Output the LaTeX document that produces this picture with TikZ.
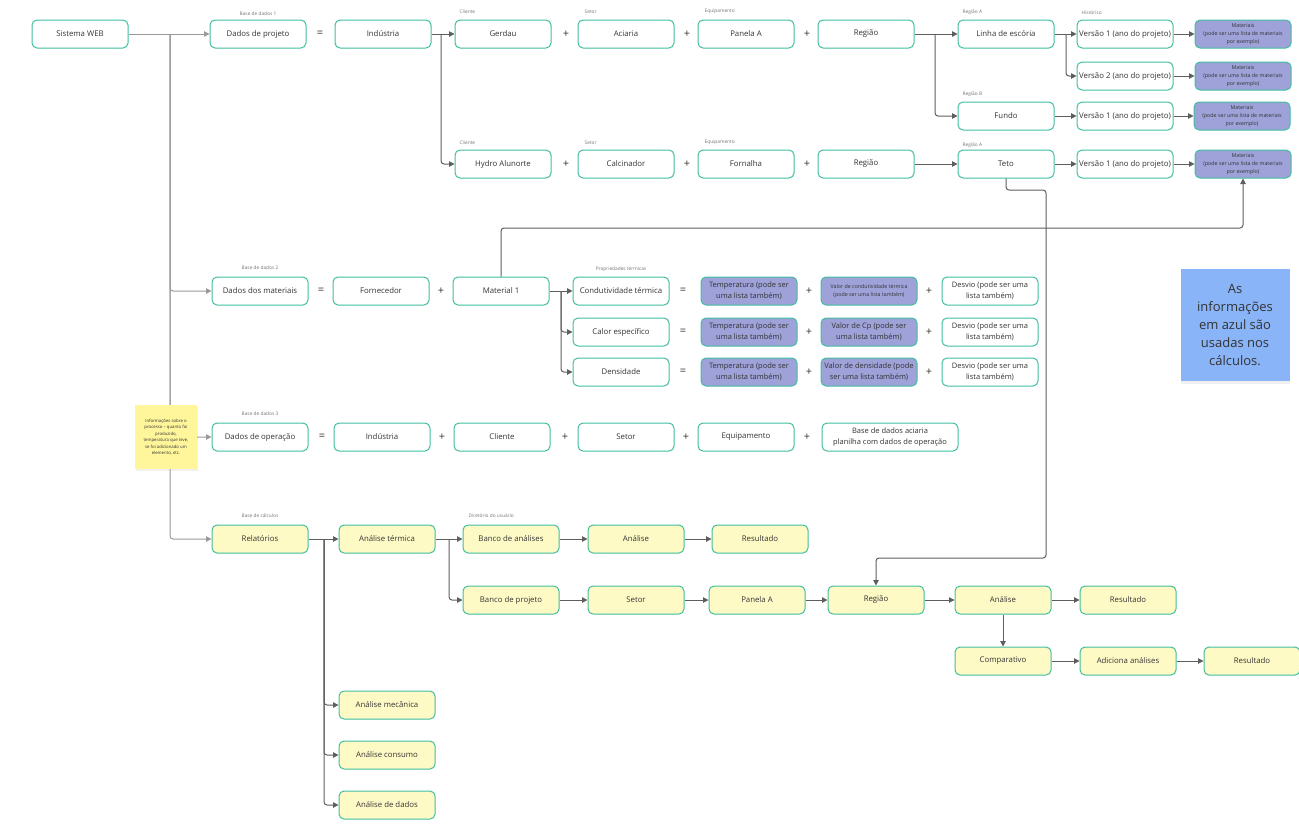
\documentclass[tikz,border=0pt]{standalone}
\usepackage{fontspec}
\setmainfont{Open Sans}
\usetikzlibrary{arrows.meta,positioning,shadows}
\definecolor{Teal}{HTML}{40BEA0}
\definecolor{Lilac}{HTML}{9EA2D9}
\definecolor{Cream}{HTML}{FEFAC6}
\definecolor{Sticky}{HTML}{FFF59A}
\definecolor{SkyNote}{HTML}{8AB4F8}
\definecolor{Ink}{HTML}{333333}
\definecolor{Wire}{HTML}{5E5E5E}
\definecolor{Trunk}{HTML}{9A9A9A}
\tikzset{
  box/.style={draw=Teal,line width=1pt,rounded corners=5pt,fill=white,minimum width=96pt,minimum height=28pt,inner sep=1pt,align=center,text=Ink,font=\fontsize{7.8}{10}\selectfont},
  calcbox/.style={box,fill=Lilac},
  repbox/.style={box,fill=Cream},
  tiny/.style={font=\fontsize{5.3}{8}\selectfont},
  twoline/.style={font=\fontsize{7.5}{11}\selectfont},
  tag/.style={text=black!55,font=\fontsize{4.8}{5}\selectfont,inner sep=0pt},
  op/.style={text=Ink,font=\fontsize{11}{11}\selectfont,inner sep=0pt},
  flow/.style={draw=Wire,line width=1pt,rounded corners=3pt,-{Triangle[length=5.5pt,width=5.5pt]}},
  trunk/.style={flow,draw=Trunk},
}
\begin{document}
\begin{tikzpicture}[x=1pt,y=-1pt]
\useasboundingbox (0,0) rectangle (1299,833);
% base de dados 1
\node[box] (web) at (80,34) {Sistema WEB};
\node[box] (proj) at (258,34) {Dados de projeto};
\node[op] (eq1) at (320,34) {=};
\node[box] (ind1) at (383,34) {Indústria};
\node[box] (gerdau) at (503,34) {Gerdau};
\node[op] (pl1) at (566,34) {+};
\node[box] (aciaria) at (626,34) {Aciaria};
\node[op] (pl2) at (687,34) {+};
\node[box] (panela1) at (746,34) {Panela A};
\node[op] (pl3) at (807,34) {+};
\node[box] (reg1) at (866,34) {Região};
\node[box] (linha) at (1006,34) {Linha de escória};
\node[box] (v1a) at (1125,34) {Versão 1 (ano do projeto)};
\node[calcbox,tiny] (mt1) at (1243,34) {Materiais\\(pode ser uma lista de materiais\\por exemplo)};
\node[box] (v2) at (1125,76) {Versão 2 (ano do projeto)};
\node[calcbox,tiny] (mt2) at (1243,76) {Materiais\\(pode ser uma lista de materiais\\por exemplo)};
\node[box] (fundo) at (1006,116) {Fundo};
\node[box] (v1b) at (1125,116) {Versão 1 (ano do projeto)};
\node[calcbox,tiny] (mt3) at (1242,116) {Materiais\\(pode ser uma lista de materiais\\por exemplo)};
\node[box] (hydro) at (503,164) {Hydro Alunorte};
\node[op] (pl4) at (566,164) {+};
\node[box] (calcin) at (626,164) {Calcinador};
\node[op] (pl5) at (687,164) {+};
\node[box] (forn) at (746,164) {Fornalha};
\node[op] (pl6) at (807,164) {+};
\node[box] (reg2) at (866,164) {Região};
\node[box] (teto) at (1006,164) {Teto};
\node[box] (v1c) at (1125,164) {Versão 1 (ano do projeto)};
\node[calcbox,tiny] (mt4) at (1243,164) {Materiais\\(pode ser uma lista de materiais\\por exemplo)};
\node[tag,above=3.5pt of proj] (tproj) {Base de dados 1};
\node[tag,anchor=south west] (tcli1) at ([xshift=5pt,yshift=6pt]gerdau.north west) {Cliente};
\node[tag,anchor=south west] (tset1) at ([xshift=7pt,yshift=6pt]aciaria.north west) {Setor};
\node[tag,anchor=south west] (teq1) at ([xshift=7pt,yshift=6pt]panela1.north west) {Equipamento};
\node[tag,anchor=south west] (tra1) at ([xshift=5pt,yshift=5pt]linha.north west) {Região A};
\node[tag,anchor=south west] (thist) at ([xshift=5pt,yshift=5pt]v1a.north west) {Histórico};
\node[tag,anchor=south west] (trb) at ([xshift=5pt,yshift=4.5pt]fundo.north west) {Região B};
\node[tag,anchor=south west] (tcli2) at ([xshift=5pt,yshift=5pt]hydro.north west) {Cliente};
\node[tag,anchor=south west] (tset2) at ([xshift=7pt,yshift=5pt]calcin.north west) {Setor};
\node[tag,anchor=south west] (teq2) at ([xshift=7pt,yshift=5pt]forn.north west) {Equipamento};
\node[tag,anchor=south west] (tra2) at ([xshift=5pt,yshift=1.5pt]teto.north west) {Região A};
% base de dados 2
\node[box] (dmat) at (260,291) {Dados dos materiais};
\node[op] (eq2) at (321,291) {=};
\node[box] (fornec) at (381,291) {Fornecedor};
\node[op] (pl7) at (441,291) {+};
\node[box] (mat1) at (501,291) {Material 1};
\node[box] (cond) at (621,291) {Condutividade térmica};
\node[box] (calor) at (621,332) {Calor específico};
\node[box] (dens) at (621,372) {Densidade};
\foreach \y/\n in {291/a,332/b,372/c}{
  \node[op] (eqp\n) at (683,\y) {=};
  \node[calcbox,twoline] (temp\n) at (749,\y) {Temperatura (pode ser\\uma lista também)};
  \node[op] (plq\n) at (809,\y) {+};
  \node[op] (plr\n) at (929,\y) {+};
  \node[box,twoline] (desv\n) at (990,\y) {Desvio (pode ser uma\\lista também)};
}
\node[calcbox,tiny] (vala) at (869,291) {Valor de condutividade térmica\\(pode ser uma lista também)};
\node[calcbox,twoline] (valb) at (869,332) {Valor de Cp (pode ser\\uma lista também)};
\node[calcbox,twoline] (valc) at (869,372) {Valor de densidade (pode\\ser uma lista também)};
\node[tag,above=7pt of dmat] (tdmat) {Base de dados 2};
\node[tag,above=5pt of cond] (tprop) {Propriedades térmicas};
% base de dados 3
\node[box] (dop) at (260,437) {Dados de operação};
\node[op] (eq3) at (322,437) {=};
\node[box] (ind2) at (382,437) {Indústria};
\node[op] (pl8) at (442,437) {+};
\node[box] (cli) at (502,437) {Cliente};
\node[op] (pl9) at (565,437) {+};
\node[box] (set2) at (626,437) {Setor};
\node[op] (pl10) at (686,437) {+};
\node[box] (equip) at (746,437) {Equipamento};
\node[op] (pl11) at (807,437) {+};
\node[box,twoline,minimum width=136pt] (aci) at (890,437) {Base de dados aciaria\\planilha com dados de operação};
\node[tag,above=7pt of dop] (tdop) {Base de dados 3};
% base de calculos
\node[repbox] (rel) at (260,539) {Relatórios};
\node[repbox] (ater) at (387,539) {Análise térmica};
\node[repbox] (ban) at (511,539) {Banco de análises};
\node[repbox] (an1) at (636,539) {Análise};
\node[repbox] (res1) at (760,539) {Resultado};
\node[repbox] (bproj) at (511,600) {Banco de projeto};
\node[repbox] (set3) at (636,600) {Setor};
\node[repbox] (pan2) at (757,600) {Panela A};
\node[repbox] (reg3) at (876,600) {Região};
\node[repbox] (an2) at (1003,600) {Análise};
\node[repbox] (res2) at (1128,600) {Resultado};
\node[repbox] (comp) at (1003,661) {Comparativo};
\node[repbox] (adic) at (1128,661) {Adiciona análises};
\node[repbox] (res3) at (1252,661) {Resultado};
\node[repbox] (mec) at (387,705) {Análise mecânica};
\node[repbox] (cons) at (387,755) {Análise consumo};
\node[repbox] (ddad) at (387,805) {Análise de dados};
\node[tag,above=7pt of rel] (trel) {Base de cálculos};
\node[tag,anchor=south west] (tdir) at ([xshift=6pt,yshift=7pt]ban.north west) {Diretório do usuário};
% connectors
\coordinate (tk) at (170,34);
\draw[trunk] (web.east) -- (proj.west);
\foreach \t in {dmat,dop,rel}{\draw[trunk] (tk) |- (\t.west);}
\draw[flow] (ind1.east) -- (gerdau.west);
\coordinate (j1) at (441,34);
\draw[flow] (j1) |- (hydro.west);
\draw[flow] (reg1.east) -- (linha.west);
\coordinate (j2) at (935,34);
\draw[flow] (j2) |- (fundo.west);
\draw[flow] (linha.east) -- (v1a.west);
\coordinate (j3) at (1066,34);
\draw[flow] (j3) |- (v2.west);
\draw[flow] (reg2.east) -- (teto.west);
\draw[flow] (v1a.east) -- (mt1.west);
\draw[flow] (v2.east) -- (mt2.west);
\draw[flow] (fundo.east) -- (v1b.west);
\draw[flow] (v1b.east) -- (mt3.west);
\draw[flow] (teto.east) -- (v1c.west);
\draw[flow] (v1c.east) -- (mt4.west);
\coordinate (mb) at (1243,228);
\draw[flow] (mat1.north) |- (mb) -- (mt4.south);
\coordinate (ta) at (1046,190);
\coordinate (tb) at (1046,558);
\draw[flow] (teto.south) |- (ta) -- (tb) -| (reg3.north);
\draw[flow] (mat1.east) -- (cond.west);
\coordinate (j4) at (561,291);
\draw[flow] (j4) |- (calor.west);
\draw[flow] (j4) |- (dens.west);
\draw[flow] (rel.east) -- (ater.west);
\coordinate (j5) at (324,539);
\foreach \t in {mec,cons,ddad}{\draw[flow] (j5) |- (\t.west);}
\draw[flow] (ater.east) -- (ban.west);
\coordinate (j6) at (449,539);
\draw[flow] (j6) |- (bproj.west);
\draw[flow] (ban) -- (an1);
\draw[flow] (an1) -- (res1);
\draw[flow] (bproj) -- (set3);
\draw[flow] (set3) -- (pan2);
\draw[flow] (pan2) -- (reg3);
\draw[flow] (reg3) -- (an2);
\draw[flow] (an2) -- (res2);
\draw[flow] (an2) -- (comp);
\draw[flow] (comp) -- (adic);
\draw[flow] (adic) -- (res3);
% notes
\node[fill=Sticky,minimum width=62pt,minimum height=64pt,inner sep=1pt,align=center,text=Ink,
  font=\fontsize{4.3}{6.5}\selectfont,drop shadow={opacity=0.12,shadow xshift=1pt,shadow yshift=-1.5pt}] (sticky) at (166,437)
  {Informações sobre o\\processo -- quanto foi\\produzido,\\temperatura que teve,\\se foi adicionado um\\elemento, etc.};
\node[fill=SkyNote,minimum width=109pt,minimum height=112pt,inner sep=1pt,align=center,text=Ink,
  font=\fontsize{13}{18}\selectfont,drop shadow={opacity=0.12,shadow xshift=0pt,shadow yshift=-3pt}] (azul) at (1235,325)
  {As\\informações\\em azul são\\usadas nos\\cálculos.};
\end{tikzpicture}
\end{document}
